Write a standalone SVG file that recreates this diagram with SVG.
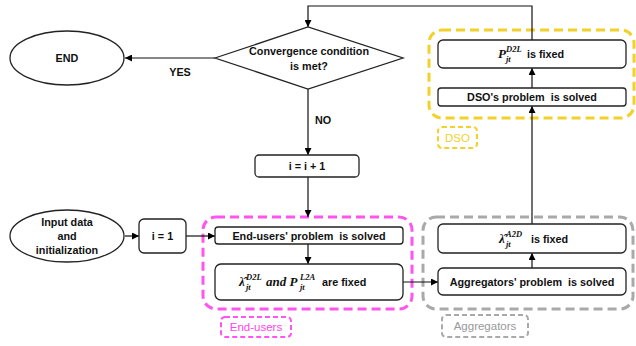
<svg xmlns="http://www.w3.org/2000/svg" width="636" height="346" viewBox="0 0 636 346">
<defs>
<marker id="arr" viewBox="0 0 8 8" refX="8" refY="4" markerWidth="7" markerHeight="7" markerUnits="userSpaceOnUse" orient="auto">
<path d="M0,0 L8,4 L0,8 z" fill="#000"/>
</marker>
<style>
.box{fill:#fff;stroke:#222;stroke-width:1.3}
.t{font-family:"Liberation Sans",Arial,sans-serif;font-weight:bold;font-size:10.8px;fill:#111;text-anchor:middle;white-space:pre}
.ts{font-family:"Liberation Sans",Arial,sans-serif;font-weight:bold;font-size:10.8px;fill:#111;white-space:pre}
.m{font-family:"Liberation Serif","Times New Roman",serif;font-weight:bold;font-style:italic;font-size:13px;fill:#111}
.s{font-family:"Liberation Serif","Times New Roman",serif;font-weight:bold;font-style:italic;font-size:8.5px;fill:#111}
.c{fill:none;stroke:#111;stroke-width:1.2}
.g{fill:none;stroke-width:3;stroke-dasharray:9 5}
.lb{fill:none;stroke-width:2;stroke-dasharray:5 3}
.lt{font-family:"Liberation Sans",Arial,sans-serif;font-size:11.5px;text-anchor:middle}
</style>
</defs>
<rect width="636" height="346" fill="#fff"/>

<g id="groups">
<rect x="203" y="217" width="209" height="92" rx="13" class="g" stroke="#FF55EE"/>
<rect x="423" y="217" width="210" height="92" rx="13" class="g" stroke="#A9A9A9"/>
<rect x="429" y="30" width="205" height="88" rx="13" class="g" stroke="#F2D12A"/>
<rect x="221" y="317" width="70" height="20" rx="4" class="lb" stroke="#FF55EE"/>
<text x="256" y="331" class="lt" fill="#FF44EE">End-users</text>
<rect x="442" y="315" width="86" height="22" rx="4" class="lb" stroke="#A9A9A9"/>
<text x="485" y="330" class="lt" fill="#999">Aggregators</text>
<rect x="438" y="127" width="39" height="21" rx="4" class="lb" stroke="#F2D12A"/>
<text x="457.5" y="142" class="lt" fill="#F2D12A">DSO</text>
</g>

<g id="connectors">
<path class="c" d="M215,58 H125" marker-end="url(#arr)"/>
<path class="c" d="M532,40 V6 H308 V27" marker-end="url(#arr)"/>
<path class="c" d="M308,89 V155" marker-end="url(#arr)"/>
<path class="c" d="M308,177 V217" marker-end="url(#arr)"/>
<path class="c" d="M125,236 H139" marker-end="url(#arr)"/>
<path class="c" d="M186,236 H215" marker-end="url(#arr)"/>
<path class="c" d="M308,244 V264" marker-end="url(#arr)"/>
<path class="c" d="M403,282 H438" marker-end="url(#arr)"/>
<path class="c" d="M532,268 V253" marker-end="url(#arr)"/>
<path class="c" d="M532,224 V106" marker-end="url(#arr)"/>
<path class="c" d="M532,88 V68" marker-end="url(#arr)"/>
<text x="180" y="76" class="t">YES</text>
<text x="323" y="124" class="t">NO</text>
</g>

<g id="end">
<ellipse cx="67" cy="58" rx="57" ry="27" class="box"/>
<text x="67" y="62" class="t">END</text>
</g>

<g id="convergence">
<polygon points="215,58 308,27 403,58 308,89" class="box"/>
<text x="309" y="55" class="t">Convergence condition</text>
<text x="309" y="70" class="t">is met?</text>
</g>

<g id="increment">
<rect x="255" y="155" width="104" height="22" rx="4" class="box"/>
<text x="307" y="170" class="t">i = i + 1</text>
</g>

<g id="input">
<ellipse cx="67" cy="236" rx="57" ry="26" class="box"/>
<text x="67" y="226" class="t">Input data</text>
<text x="67" y="240" class="t">and</text>
<text x="67" y="254" class="t">initialization</text>
</g>

<g id="init">
<rect x="139" y="219" width="47" height="34" rx="5" class="box"/>
<text x="162.5" y="240" class="t">i = 1</text>
</g>

<g id="endusers-solve">
<rect x="215" y="227" width="188" height="17" rx="3" class="box"/>
<text x="309" y="239.5" class="t">End-users' problem  is solved</text>
</g>

<g id="endusers-fixed">
<rect x="215" y="264" width="188" height="36" rx="6" class="box"/>
<text x="239" y="286" class="m">λ̂</text>
<text x="246" y="290" class="s">jt</text>
<text x="246" y="280" class="s">D2L</text>
<text x="266" y="286" class="m">and P</text>
<text x="300" y="290" class="s">jt</text>
<text x="300" y="280" class="s">L2A</text>
<text x="322" y="286" class="ts">are fixed</text>
</g>

<g id="agg-solve">
<rect x="438" y="268" width="188" height="27" rx="5" class="box"/>
<text x="532" y="285.5" class="t">Aggregators' problem  is solved</text>
</g>

<g id="agg-fixed">
<rect x="438" y="224" width="188" height="29" rx="5" class="box"/>
<text x="499" y="243" class="m">λ̂</text>
<text x="506" y="247" class="s">jt</text>
<text x="506" y="237" class="s">A2D</text>
<text x="531" y="243" class="ts">is fixed</text>
</g>

<g id="dso-solve">
<rect x="438" y="88" width="188" height="18" rx="3" class="box"/>
<text x="532" y="101" class="t">DSO's problem  is solved</text>
</g>

<g id="dso-fixed">
<rect x="438" y="40" width="188" height="28" rx="5" class="box"/>
<text x="498" y="58" class="m">P</text>
<text x="506" y="62" class="s">jt</text>
<text x="506" y="52" class="s">D2L</text>
<text x="527" y="58" class="ts">is fixed</text>
</g>
</svg>
